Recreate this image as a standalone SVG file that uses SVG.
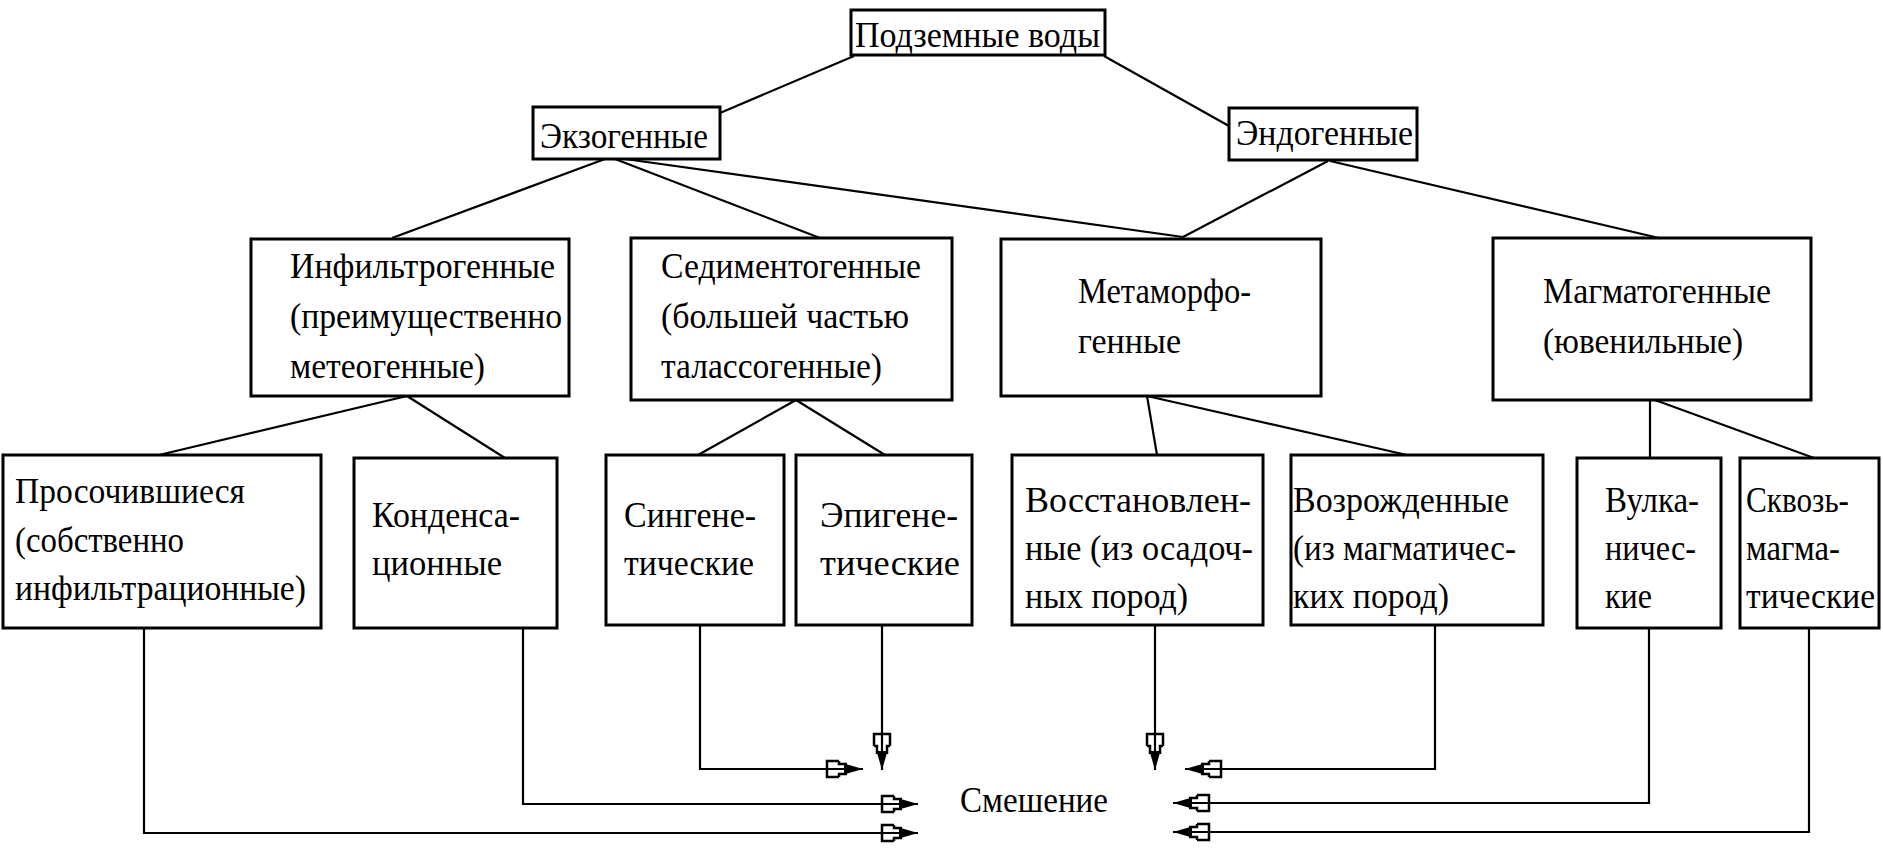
<svg xmlns="http://www.w3.org/2000/svg" width="1883" height="850" viewBox="0 0 1883 850">
<style>
.box{fill:#fff;stroke:#000;stroke-width:3}
.t{font-family:"Liberation Serif","DejaVu Serif",serif;font-size:35px;fill:#000}
.ln{fill:none;stroke:#000;stroke-width:2.2}
</style>
<defs>
<marker id="arr" viewBox="-40 -11 42 22" refX="0" refY="0" markerWidth="42" markerHeight="22" markerUnits="userSpaceOnUse" orient="auto" overflow="visible">
<path d="M-24,-8 H-36 V8 H-24 M-24,-8 V-5 H-16 M-24,8 V5 H-16" fill="none" stroke="#000" stroke-width="2.5"/>
<path d="M-19,-5.5 L0,0 L-19,5.5 Z" fill="#000"/>
</marker>
</defs>
<rect width="1883" height="850" fill="#fff"/>
<g id="connectors">
<line class="ln" x1="854" y1="56" x2="720" y2="113"/>
<line class="ln" x1="1104" y1="56" x2="1229" y2="126"/>
<line class="ln" x1="605" y1="159" x2="392" y2="238"/>
<line class="ln" x1="615" y1="159" x2="820" y2="238"/>
<line class="ln" x1="625" y1="159" x2="1183" y2="237"/>
<line class="ln" x1="1328" y1="161" x2="1183" y2="237"/>
<line class="ln" x1="1330" y1="161" x2="1659" y2="238"/>
<line class="ln" x1="407" y1="396" x2="159" y2="455"/>
<line class="ln" x1="407" y1="396" x2="505" y2="458"/>
<line class="ln" x1="796" y1="400" x2="698" y2="455"/>
<line class="ln" x1="796" y1="400" x2="885" y2="455"/>
<line class="ln" x1="1147" y1="396" x2="1157" y2="455"/>
<line class="ln" x1="1147" y1="396" x2="1407" y2="455"/>
<line class="ln" x1="1650" y1="400" x2="1650" y2="458"/>
<line class="ln" x1="1655" y1="400" x2="1814" y2="458"/>
<path class="ln" d="M144,628 V833 H918" marker-end="url(#arr)"/>
<path class="ln" d="M523,628 V804 H918" marker-end="url(#arr)"/>
<path class="ln" d="M700,625 V769 H863" marker-end="url(#arr)"/>
<path class="ln" d="M882,625 V770" marker-end="url(#arr)"/>
<path class="ln" d="M1155,625 V770" marker-end="url(#arr)"/>
<path class="ln" d="M1435,625 V769 H1185" marker-end="url(#arr)"/>
<path class="ln" d="M1649,628 V803 H1173" marker-end="url(#arr)"/>
<path class="ln" d="M1809,628 V832 H1173" marker-end="url(#arr)"/>
</g>
<g id="n-podzemnye">
<rect class="box" x="851" y="10" width="254" height="45"/>
<text class="t" x="855" y="47" textLength="245" lengthAdjust="spacingAndGlyphs">Подземные воды</text>
</g>
<g id="n-ekzogennye">
<rect class="box" x="533" y="107" width="187" height="52"/>
<text class="t" x="540" y="148" textLength="168" lengthAdjust="spacingAndGlyphs">Экзогенные</text>
</g>
<g id="n-endogennye">
<rect class="box" x="1229" y="108" width="188" height="52"/>
<text class="t" x="1236" y="145" textLength="177" lengthAdjust="spacingAndGlyphs">Эндогенные</text>
</g>
<g id="n-infiltrogennye">
<rect class="box" x="251" y="239" width="318" height="157"/>
<text class="t" x="290" y="278" textLength="265" lengthAdjust="spacingAndGlyphs">Инфильтрогенные</text>
<text class="t" x="290" y="328" textLength="272" lengthAdjust="spacingAndGlyphs">(преимущественно</text>
<text class="t" x="290" y="378" textLength="195" lengthAdjust="spacingAndGlyphs">метеогенные)</text>
</g>
<g id="n-sedimentogennye">
<rect class="box" x="631" y="238" width="321" height="162"/>
<text class="t" x="661" y="278" textLength="260" lengthAdjust="spacingAndGlyphs">Седиментогенные</text>
<text class="t" x="661" y="328" textLength="248" lengthAdjust="spacingAndGlyphs">(большей частью</text>
<text class="t" x="661" y="378" textLength="221" lengthAdjust="spacingAndGlyphs">талассогенные)</text>
</g>
<g id="n-metamorfogennye">
<rect class="box" x="1001" y="239" width="320" height="157"/>
<text class="t" x="1078" y="303" textLength="173" lengthAdjust="spacingAndGlyphs">Метаморфо-</text>
<text class="t" x="1078" y="353" textLength="103" lengthAdjust="spacingAndGlyphs">генные</text>
</g>
<g id="n-magmatogennye">
<rect class="box" x="1493" y="238" width="318" height="162"/>
<text class="t" x="1543" y="303" textLength="228" lengthAdjust="spacingAndGlyphs">Магматогенные</text>
<text class="t" x="1543" y="353" textLength="200" lengthAdjust="spacingAndGlyphs">(ювенильные)</text>
</g>
<g id="n-prosochivshiesya">
<rect class="box" x="3" y="455" width="318" height="173"/>
<text class="t" x="15" y="503" textLength="230" lengthAdjust="spacingAndGlyphs">Просочившиеся</text>
<text class="t" x="15" y="552" textLength="169" lengthAdjust="spacingAndGlyphs">(собственно</text>
<text class="t" x="15" y="600" textLength="291" lengthAdjust="spacingAndGlyphs">инфильтрационные)</text>
</g>
<g id="n-kondensacionnye">
<rect class="box" x="354" y="458" width="203" height="170"/>
<text class="t" x="372" y="527" textLength="148" lengthAdjust="spacingAndGlyphs">Конденса-</text>
<text class="t" x="372" y="575" textLength="130" lengthAdjust="spacingAndGlyphs">ционные</text>
</g>
<g id="n-singeneticheskie">
<rect class="box" x="606" y="455" width="178" height="170"/>
<text class="t" x="624" y="527" textLength="132" lengthAdjust="spacingAndGlyphs">Сингене-</text>
<text class="t" x="624" y="575" textLength="130" lengthAdjust="spacingAndGlyphs">тические</text>
</g>
<g id="n-epigeneticheskie">
<rect class="box" x="796" y="455" width="176" height="170"/>
<text class="t" x="820" y="527" textLength="138" lengthAdjust="spacingAndGlyphs">Эпигене-</text>
<text class="t" x="820" y="575" textLength="140" lengthAdjust="spacingAndGlyphs">тические</text>
</g>
<g id="n-vosstanovlennye">
<rect class="box" x="1012" y="455" width="251" height="170"/>
<text class="t" x="1025" y="512" textLength="226" lengthAdjust="spacingAndGlyphs">Восстановлен-</text>
<text class="t" x="1025" y="560" textLength="228" lengthAdjust="spacingAndGlyphs">ные (из осадоч-</text>
<text class="t" x="1025" y="608" textLength="163" lengthAdjust="spacingAndGlyphs">ных пород)</text>
</g>
<g id="n-vozrozhdennye">
<rect class="box" x="1291" y="455" width="252" height="170"/>
<text class="t" x="1293" y="512" textLength="216" lengthAdjust="spacingAndGlyphs">Возрожденные</text>
<text class="t" x="1293" y="560" textLength="223" lengthAdjust="spacingAndGlyphs">(из магматичес-</text>
<text class="t" x="1293" y="608" textLength="156" lengthAdjust="spacingAndGlyphs">ких пород)</text>
</g>
<g id="n-vulkanicheskie">
<rect class="box" x="1577" y="458" width="144" height="170"/>
<text class="t" x="1605" y="512" textLength="94" lengthAdjust="spacingAndGlyphs">Вулка-</text>
<text class="t" x="1605" y="560" textLength="91" lengthAdjust="spacingAndGlyphs">ничес-</text>
<text class="t" x="1605" y="608" textLength="47" lengthAdjust="spacingAndGlyphs">кие</text>
</g>
<g id="n-skvozmagmaticheskie">
<rect class="box" x="1740" y="458" width="139" height="170"/>
<text class="t" x="1746" y="512" textLength="103" lengthAdjust="spacingAndGlyphs">Сквозь-</text>
<text class="t" x="1746" y="560" textLength="94" lengthAdjust="spacingAndGlyphs">магма-</text>
<text class="t" x="1746" y="608" textLength="129" lengthAdjust="spacingAndGlyphs">тические</text>
</g>
<g id="n-smeshenie">
<text class="t" x="960" y="812" textLength="148" lengthAdjust="spacingAndGlyphs">Смешение</text>
</g>
</svg>
